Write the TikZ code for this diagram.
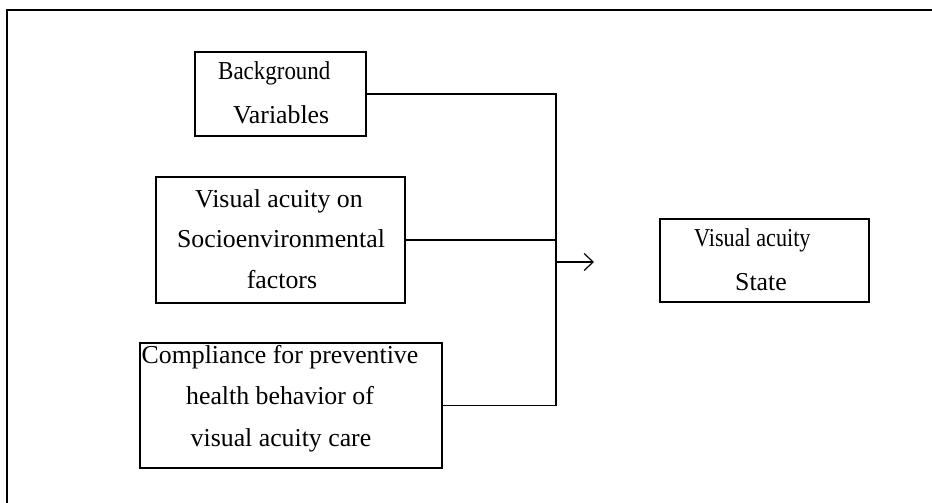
\documentclass[tikz,border=0pt]{standalone}
\usepackage{fontspec}
\setmainfont{Liberation Serif}
\usetikzlibrary{arrows.meta}
\begin{document}
\begin{tikzpicture}[x=1pt,y=-1pt,
  box/.style={draw=black, line width=1.3pt, inner sep=0pt, rectangle},
  txt/.style={inner sep=0pt, font=\fontsize{25.8}{41}\selectfont},
  link/.style={draw=black, line width=1.2pt},
  frame/.style={draw=black, line width=2pt}]
\useasboundingbox (0,0) rectangle (932,503);
% outer frame (only top and left visible)
\coordinate (fbl) at (7,503);
\coordinate (ftl) at (7,10);
\coordinate (ftr) at (932,10);
\draw[frame] (fbl) -- (ftl) -- (ftr);
% boxes
\node[box, minimum width=171pt, minimum height=84pt] (bg) at (280.5,94) {};
\node[box, minimum width=249pt, minimum height=126pt] (vis) at (280.5,240) {};
\node[box, minimum width=302pt, minimum height=125pt] (comp) at (291,405.5) {};
\node[box, minimum width=209pt, minimum height=83pt] (state) at (764.5,260.5) {};
% texts
\node[txt, anchor=base west] (bg1) at (218,80) {\scalebox{0.89}[1]{Background}};
\node[txt, anchor=base west] (bg2) at (233,123) {Variables};
\node[txt, anchor=base] (vis1) at (279,207) {Visual acuity on};
\node[txt, anchor=base] (vis2) at (281,247) {Socioenvironmental};
\node[txt, anchor=base] (vis3) at (282,288) {factors};
\node[txt, anchor=base] (comp1) at (280,363) {Compliance for preventive};
\node[txt, anchor=base] (comp2) at (280,404) {health behavior of};
\node[txt, anchor=base] (comp3) at (281,446) {visual acuity care};
\node[txt, anchor=base west] (st1) at (694,246) {\scalebox{0.86}[1]{Visual acuity}};
\node[txt, anchor=base west] (st2) at (735,290) {State};
% connectors
\coordinate (jtop) at (556,94);
\coordinate (jmid) at (556,240);
\coordinate (jarr) at (556,262);
\coordinate (jbot) at (556,405.5);
\coordinate (aend) at (594,262);
\draw[link] (bg.east) -- (jtop) -- (jbot) -- (comp.east);
\draw[link] (vis.east) -- (jmid);
\draw[link, -{Straight Barb[length=9pt,width=17pt,line width=1.2pt]}] (jarr) -- (aend);
\end{tikzpicture}
\end{document}
